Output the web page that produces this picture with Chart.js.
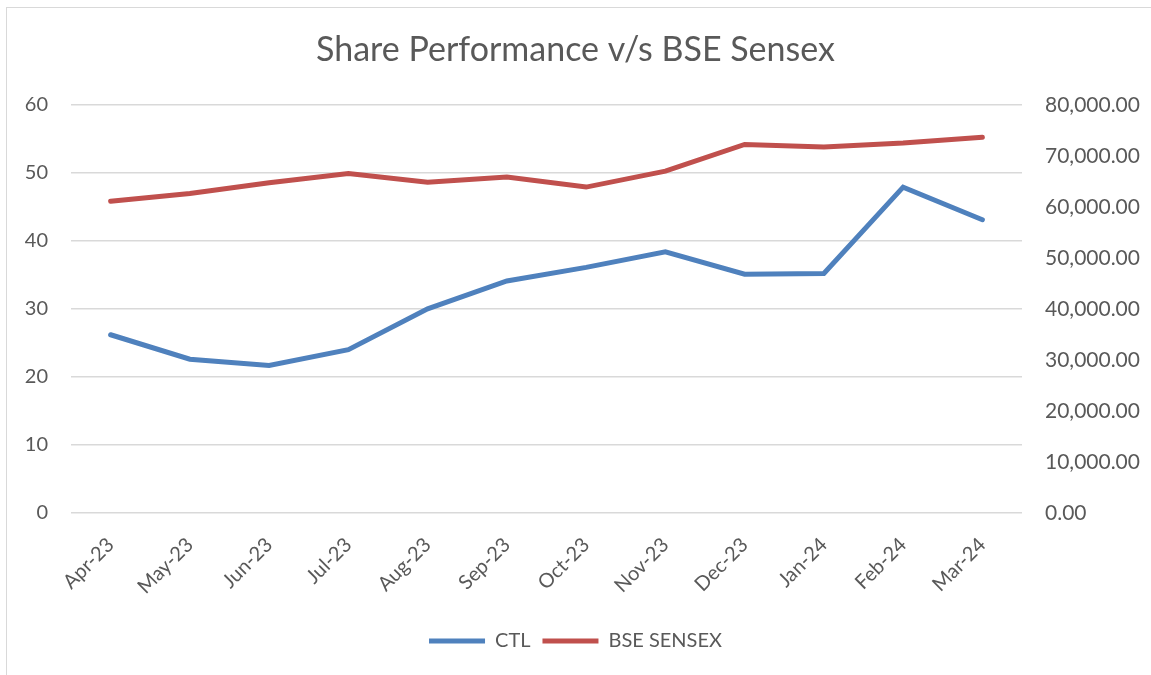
<!DOCTYPE html>
<html>
<head>
<meta charset="utf-8">
<script src="https://cdn.jsdelivr.net/npm/chart.js@4.4.1/dist/chart.umd.min.js"></script>
<style>
  html, body { margin: 0; padding: 0; background: #fff; }
  #wrap { position: absolute; left: 0; top: 0; width: 1151px; height: 675px; overflow: hidden; }
  #frame { position: absolute; left: 6px; top: 7px; width: 1160px; height: 680px; border: 1px solid #d9d9d9; box-sizing: border-box; }
  canvas { position: absolute; left: 0; top: 0; }
</style>
</head>
<body>
<div id="wrap">
  <div id="frame"></div>
  <canvas id="myChart" width="1151" height="675"></canvas>
</div>
<script>
var months = ['Apr-23', 'May-23', 'Jun-23', 'Jul-23', 'Aug-23', 'Sep-23', 'Oct-23', 'Nov-23', 'Dec-23', 'Jan-24', 'Feb-24', 'Mar-24'];
var ctlPrice = [26.2, 22.6, 21.7, 24.0, 30.0, 34.1, 36.1, 38.4, 35.1, 35.2, 47.9, 43.1];
var sensex = [61112, 62622, 64718, 66527, 64831, 65828, 63874, 66988, 72240, 71752, 72500, 73651];

var textColor = '#595959';
var fontName = 'Lato, "Open Sans", sans-serif';

var ctx = document.getElementById('myChart').getContext('2d');
var chart = new Chart(ctx, {
    type: 'line',
    data: {
        labels: months,
        datasets: [{
            label: 'CTL',
            data: ctlPrice,
            borderColor: '#4f81bd',
            backgroundColor: '#4f81bd',
            borderWidth: 5,
            borderCapStyle: 'round',
            pointRadius: 0,
            tension: 0,
            yAxisID: 'y'
        },
        {
            label: 'BSE SENSEX',
            data: sensex,
            borderColor: '#c0504d',
            backgroundColor: '#c0504d',
            borderWidth: 5,
            borderCapStyle: 'round',
            pointRadius: 0,
            tension: 0,
            yAxisID: 'y1'
        }]
    },
    options: {
        responsive: false,
        animation: false,
        layout: { padding: { left: 0, right: 0, top: 0, bottom: 14 } },
        plugins: {
            title: {
                display: true,
                text: 'Share Performance v/s BSE Sensex',
                color: textColor,
                font: { family: fontName, size: 34, weight: 'normal' },
                padding: { top: 30, bottom: 34 }
            },
            legend: {
                position: 'bottom',
                labels: {
                    color: textColor,
                    font: { family: fontName, size: 20 },
                    usePointStyle: true,
                    pointStyle: 'line',
                    pointStyleWidth: 56,
                    padding: 12
                }
            },
            tooltip: { enabled: false }
        },
        scales: {
            x: {
                offset: true,
                grid: { display: false },
                border: { display: false },
                ticks: {
                    color: textColor,
                    font: { family: fontName, size: 20 },
                    minRotation: 45,
                    maxRotation: 45,
                    padding: 12
                },
                afterFit: function (scale) { scale.height = 106; }
            },
            y: {
                position: 'left',
                min: 0,
                max: 60,
                ticks: {
                    stepSize: 10,
                    color: textColor,
                    font: { family: fontName, size: 20 },
                    padding: 23
                },
                grid: { color: '#d9d9d9', lineWidth: 1.5, drawTicks: false },
                border: { display: false },
                afterFit: function (scale) { scale.width = 71; }
            },
            y1: {
                position: 'right',
                min: 0,
                max: 80000,
                ticks: {
                    stepSize: 10000,
                    color: textColor,
                    font: { family: fontName, size: 21 },
                    padding: 23,
                    callback: function (v) {
                        return v.toLocaleString('en-US', { minimumFractionDigits: 2, maximumFractionDigits: 2 });
                    }
                },
                grid: { drawOnChartArea: false, drawTicks: false },
                border: { display: false },
                afterFit: function (scale) { scale.width = 129; }
            }
        }
    }
});
</script>
</body>
</html>
